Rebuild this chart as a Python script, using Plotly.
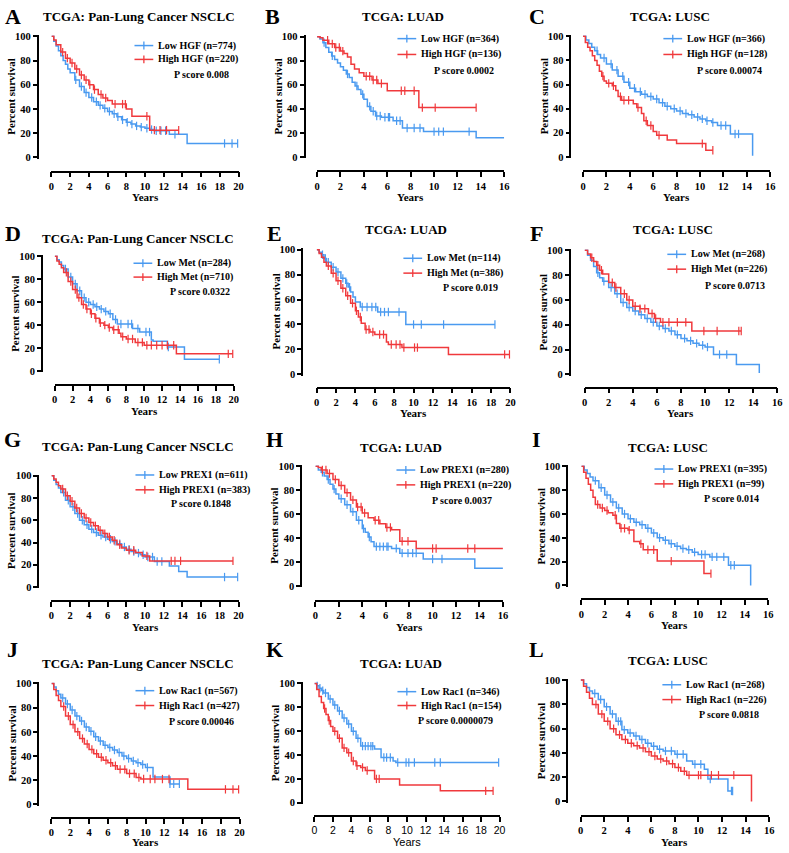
import plotly.graph_objects as go

BLUE = "#4a9af0"
RED = "#f0393c"
SERIF = "Liberation Serif"
SANS = "Liberation Sans"

# ---------------- data (Kaplan-Meier step knots: time in years, % survival after step) -------------
# Panel A: HGF, Pan-Lung NSCLC
a_low_t = [0.25, 0.5, 0.75, 1, 1.25, 1.5, 1.75, 2, 2.5, 3, 3.5, 4, 4.5, 5, 5.5, 6, 6.5, 7, 7.5, 8, 8.5, 9, 9.5, 10, 10.5, 11, 12.6, 14.5]
a_low_s = [96, 92, 88, 84, 80, 77, 73, 70, 64, 58.5, 53.5, 49.5, 46, 43, 40.5, 38, 36, 33.5, 31, 29, 27.5, 26, 25, 24, 23, 22, 19, 11.5]
a_low_c = [2.6, 3.2, 3.7, 4.3, 4.8, 5.2, 5.7, 6.2, 6.7, 7.1, 7.6, 8.1, 8.6, 9.1, 9.6, 10.2, 10.7, 11.2, 11.7, 12.2, 13.2, 18.5, 19.3, 19.9]
a_high_t = [0.25, 0.5, 1, 1.5, 2, 2.5, 3, 3.5, 4, 4.5, 5, 5.5, 6, 6.5, 8, 8.6, 10.5]
a_high_s = [97, 93, 87, 82, 78, 73, 68, 64, 60, 56, 52, 49, 47, 44, 40, 34, 22.5]
a_high_c = [1.2, 1.7, 2.2, 2.7, 3.2, 3.7, 4.1, 4.6, 5.3, 5.8, 6.8, 7.6, 7.9, 10.2, 11, 11.6, 12.3, 13.6]

# Panel B: HGF, LUAD
b_low_t = [0.25, 0.5, 0.75, 1, 1.25, 1.5, 1.75, 2, 2.25, 2.5, 2.75, 3, 3.25, 3.5, 3.75, 4, 4.3, 4.6, 5, 5.5, 6.5, 7.3, 9.1, 13.6]
b_low_s = [98, 95, 91, 87, 84, 81, 78, 75, 72, 69, 66, 62, 59, 56, 52, 48, 42, 38, 34, 33, 30, 24, 21, 16]
b_low_c = [0.6, 1.3, 2.6, 3.4, 3.9, 4.5, 4.8, 5.1, 5.4, 5.8, 6.1, 6.2, 6.8, 7.1, 7.7, 8.3, 8.8, 10, 10.4, 10.8, 13]
b_high_t = [0.25, 0.5, 1, 1.5, 2, 2.3, 2.6, 2.9, 3.2, 3.6, 4, 4.7, 5.2, 6, 8.7]
b_high_s = [99, 97, 94, 91, 88, 86, 83, 77, 73, 70, 67, 64, 61, 55, 41]
b_high_c = [0.9, 1.3, 1.6, 1.9, 2.2, 4.2, 4.5, 4.8, 5.1, 5.5, 7.2, 7.5, 8.3, 9.0, 10.1, 13.6]

# Panel C: HGF, LUSC
c_low_t = [0.25, 0.5, 0.75, 1, 1.25, 1.5, 2, 2.5, 3, 3.5, 4, 4.5, 5, 5.5, 6, 6.5, 7, 7.5, 8, 8.5, 9, 9.5, 10, 10.5, 11, 11.5, 12.6, 14.5]
c_low_s = [97, 94, 91, 88, 85, 82, 77, 72, 67, 62, 57, 54, 52, 50, 48, 45, 42, 40, 38, 36, 35, 33, 31.5, 30, 28.5, 26, 19, 1]
c_low_c = [1.2, 1.8, 2.4, 2.9, 3.4, 3.9, 4.4, 4.9, 5.3, 5.8, 6.3, 6.8, 7.2, 7.8, 8.3, 8.8, 9.3, 9.8, 10.2, 10.6, 11.1, 11.8, 12.2, 13, 13.3]
c_high_t = [0.2, 0.4, 0.6, 0.8, 1, 1.2, 1.4, 1.6, 1.8, 2, 2.5, 2.8, 3, 3.3, 4.3, 4.6, 5, 5.2, 5.5, 6, 6.3, 7.2, 8, 10.5]
c_high_s = [95, 91, 88, 84, 80, 76, 71, 67, 63, 61, 59, 55, 50, 47, 44, 41, 36, 30, 26, 21, 18, 14, 11, 5.5]
c_high_c = [1.7, 2.2, 2.6, 3.2, 3.5, 3.9, 4.7, 5.4, 5.8, 6.5, 10.2, 11.1]

# Panel D: Met, Pan-Lung NSCLC
d_low_t = [0.25, 0.5, 0.75, 1, 1.5, 2, 2.5, 3, 3.5, 4, 4.5, 5, 5.5, 6, 6.5, 7, 8.7, 9.5, 10.8, 11, 12.6, 14.5]
d_low_s = [97, 95, 92, 89, 82, 76, 70, 64, 60, 58, 56, 54, 52, 50, 45, 41, 37, 34, 27, 26, 21, 10.3]
d_low_c = [1.2, 1.8, 2.3, 2.8, 3.3, 3.8, 4.3, 4.7, 5.2, 5.7, 6.2, 6.8, 7.4, 8.2, 8.6, 9.3, 10.2, 10.6, 12.7, 18.4]
d_high_t = [0.25, 0.5, 0.75, 1, 1.5, 2, 2.5, 3, 3.5, 4, 4.5, 5, 5.5, 6, 6.5, 7.2, 7.4, 8, 9, 10, 13.6]
d_high_s = [96, 93, 90, 86, 78, 71, 64, 58, 54, 50, 46, 42, 40, 38, 36, 33, 30, 28, 25, 22.5, 15]
d_high_c = [1.3, 1.8, 2.3, 2.7, 3.2, 3.6, 4.1, 4.6, 5.1, 5.6, 6.1, 6.6, 7.1, 7.6, 8.2, 8.7, 9.3, 9.8, 10.3, 10.8, 11.4, 12, 12.6, 13.3, 19.4, 19.9]

# Panel E: Met, LUAD
e_low_t = [0.25, 0.5, 0.75, 1, 1.5, 2, 2.5, 3, 3.25, 3.5, 3.75, 4, 4.5, 6.3, 9.2]
e_low_s = [98, 96, 93, 90, 86, 82, 77, 73, 70, 66, 62, 58, 54, 50, 40]
e_low_c = [0.6, 0.9, 1.2, 1.7, 2.2, 2.7, 3.1, 3.4, 4.7, 5.2, 5.7, 6.1, 6.6, 7.0, 7.4, 8.5, 10, 10.8, 13.1, 18.4]
e_high_t = [0.25, 0.5, 0.75, 1, 1.5, 2, 2.5, 3, 3.5, 4, 4.3, 4.6, 5, 5.5, 6, 7.2, 7.4, 8.8, 13.6]
e_high_s = [97, 94, 90, 87, 81, 75, 69, 63, 57, 51, 46, 41, 36, 34, 32, 26, 24, 21.5, 16]
e_high_c = [1.2, 1.7, 2.2, 2.7, 3.2, 3.7, 4.1, 4.5, 5.1, 5.4, 5.8, 6.5, 6.9, 7.7, 8.2, 8.6, 9, 10.1, 10.4, 19.4, 19.9]

# Panel F: Met, LUSC
f_low_t = [0.25, 0.5, 0.75, 1, 1.25, 1.5, 2, 2.5, 3, 3.5, 4, 4.5, 5, 5.5, 6, 6.5, 7, 7.5, 8, 8.5, 9, 9.5, 10, 10.7, 12.6, 14.5]
f_low_s = [96, 92, 87, 82, 78, 75, 70, 65, 58, 54, 51, 48, 45, 42, 39, 37, 35, 32, 29, 27, 25, 23.5, 22, 16, 8, 1]
f_low_c = [1.1, 1.6, 2.2, 2.7, 3.2, 3.7, 4.2, 4.7, 5.2, 5.7, 6.2, 6.7, 7.2, 7.7, 8.3, 8.8, 9.3, 9.8, 10.2, 11.2, 11.8]
f_high_t = [0.25, 0.5, 0.75, 1, 1.25, 1.5, 2, 2.5, 3, 3.5, 4, 4.6, 5.3, 5.8, 6.3, 8.9]
f_high_s = [97, 94, 91, 88, 84, 81, 74, 70, 65, 60, 55, 53, 49, 45, 42, 35]
f_high_c = [0.6, 1.1, 1.4, 2.3, 2.6, 3.3, 3.7, 4.2, 4.6, 5.0, 5.6, 5.9, 6.5, 7.0, 7.7, 8.4, 9.9, 11, 12.8, 13]

# Panel G: PREX1, Pan-Lung NSCLC
g_low_t = [0.25, 0.5, 0.75, 1, 1.5, 2, 2.5, 3, 3.5, 4, 4.5, 5, 5.5, 6, 6.5, 7, 7.5, 8, 8.5, 9, 9.5, 10, 11, 12.6, 13.6, 14.5]
g_low_s = [96, 92, 89, 85, 78, 72, 66, 60, 56, 52, 49, 46.5, 45, 43, 41, 39, 36, 34, 32, 30.5, 29, 27, 23, 19, 14, 9]
g_low_c = [1.3, 1.8, 2.3, 2.8, 3.3, 3.8, 4.3, 4.8, 5.3, 5.8, 6.3, 6.8, 7.3, 7.8, 8.3, 8.8, 9.3, 9.8, 10.3, 10.8, 11.3, 11.8, 18.5, 19.9]
g_high_t = [0.25, 0.5, 0.75, 1, 1.5, 2, 2.5, 3, 3.5, 4, 4.5, 5, 5.5, 6, 6.5, 7, 7.5, 8, 9, 9.7, 10.5]
g_high_s = [97, 94, 91, 88, 82, 77, 71, 66, 62, 58, 55, 51, 48, 45, 42, 38, 35, 33, 31, 28, 23.5]
g_high_c = [1.2, 1.7, 2.2, 2.7, 3.2, 3.7, 4.2, 4.7, 5.2, 5.7, 6.2, 6.7, 7.3, 8.3, 8.8, 10.2, 12.8, 13.2, 13.8, 19.4]

# Panel H: PREX1, LUAD
h_low_t = [0.25, 0.5, 0.75, 1, 1.25, 1.5, 1.75, 2, 2.5, 3, 3.5, 4, 4.25, 4.5, 4.75, 5, 6.5, 7.2, 9.2, 13.6]
h_low_s = [97, 95, 92, 89, 85, 81, 77, 73, 68, 62, 55, 48, 45, 41, 37, 33, 31.5, 27.5, 22.6, 15]
h_low_c = [0.6, 1.1, 1.6, 2.2, 2.7, 3.2, 3.7, 4.1, 4.6, 5.2, 5.5, 5.8, 6.1, 6.2, 6.9, 7.4, 7.9, 8.3, 8.6, 10, 10.8]
h_high_t = [0.25, 0.5, 1, 1.5, 2, 2.5, 3, 3.5, 4, 4.5, 5, 5.5, 6, 6.5, 7.2, 8.6]
h_high_s = [99, 97, 94, 89, 84, 78, 72, 66, 61, 57, 55, 52, 49, 47, 37.5, 31.4]
h_high_c = [0.6, 0.9, 1.2, 1.7, 2.2, 2.7, 3.2, 3.6, 3.9, 4.2, 5.1, 5.4, 6.1, 6.4, 7.4, 7.9, 10, 10.3, 13, 13.6]

# Panel I: PREX1, LUSC
i_low_t = [0.25, 0.5, 0.75, 1, 1.5, 2, 2.5, 3, 3.5, 4, 4.5, 5, 5.5, 6, 6.5, 7, 7.5, 8, 8.5, 9, 9.5, 10, 11, 12.6, 14.5]
i_low_s = [97, 94, 91, 88, 82, 76, 70, 65, 60, 56, 53, 51, 48, 44, 40, 38, 35, 33, 31, 30, 28, 26, 24, 17, 0]
i_low_c = [1.2, 1.7, 2.2, 2.7, 3.2, 3.7, 4.2, 4.7, 5.2, 5.7, 6.2, 6.7, 7.2, 7.7, 8.2, 8.7, 9.2, 9.7, 10.3, 10.6, 11.2, 11.6, 12.2, 12.8, 13.1]
i_high_t = [0.2, 0.4, 0.6, 0.8, 1, 1.2, 1.6, 2, 2.3, 2.7, 3, 3.3, 4, 4.5, 5, 5.3, 6.5, 10.5]
i_high_s = [95, 90, 85, 80, 74, 68, 65, 63, 61, 59, 52, 48, 46.5, 37, 35, 30, 20.5, 10]
i_high_c = [1.4, 1.8, 2.2, 2.9, 3.4, 3.7, 4.1, 5.1, 5.7, 6.2, 7.7, 11.1]

# Panel J: Rac1, Pan-Lung NSCLC
j_low_t = [0.25, 0.5, 0.75, 1, 1.5, 2, 2.5, 3, 3.5, 4, 4.5, 5, 5.5, 6, 6.5, 7, 7.5, 8, 8.5, 9, 9.5, 10, 10.8, 12.6]
j_low_s = [97, 94, 91, 88, 83, 78, 73, 69, 64, 60.5, 56, 52.5, 49, 47, 45, 43, 40, 38, 36, 34.5, 33, 30.5, 22.6, 17]
j_low_c = [1.2, 1.7, 2.2, 2.7, 3.2, 3.7, 4.2, 4.7, 5.2, 5.7, 6.2, 6.7, 7.2, 7.7, 8.2, 8.7, 9.2, 9.7, 10.2, 12.6, 13, 13.6]
j_high_t = [0.25, 0.5, 0.75, 1, 1.5, 2, 2.5, 3, 3.5, 4, 4.5, 5, 5.5, 6, 6.5, 7, 8, 9, 9.5, 14.5]
j_high_s = [95, 90, 86, 81, 73, 66, 60, 54.5, 50, 45.5, 42, 39, 36.5, 34.5, 32, 29, 25.5, 22.3, 21, 12.5]
j_high_c = [1.3, 1.8, 2.3, 2.8, 3.3, 3.8, 4.3, 4.8, 5.3, 5.8, 6.3, 6.8, 7.3, 7.8, 8.3, 8.8, 9.3, 9.8, 10.5, 11, 11.8, 12.5, 18.5, 19.3, 19.9]

# Panel K: Rac1, LUAD
k_low_t = [0.25, 0.5, 0.75, 1, 1.5, 2, 2.5, 3, 3.5, 4, 4.5, 5, 6.5, 7.2, 8.5, 8.8]
k_low_s = [98, 96, 94, 92, 87, 82, 77, 71, 66, 60, 54, 47.5, 45, 38, 35, 33.7]
k_low_c = [0.3, 0.6, 0.9, 1.2, 1.7, 2.2, 2.7, 3.2, 3.7, 4.2, 4.7, 5.2, 5.5, 5.8, 6.1, 6.3, 7.5, 7.8, 8.2, 9, 9.9, 10.2, 10.8, 13, 13.6, 19.9]
k_high_t = [0.25, 0.5, 0.75, 1, 1.25, 1.5, 1.75, 2, 2.5, 3, 3.5, 4, 4.5, 5, 5.5, 6.5, 9.2, 13.6]
k_high_s = [95, 89, 84, 79, 74, 69, 64, 60, 54, 46, 42, 35, 31, 29.6, 27, 20, 15, 10]
k_high_c = [1.1, 1.6, 2.2, 2.7, 3.2, 3.7, 4.2, 4.6, 5.2, 5.7, 6.7, 7, 18.5, 19.3]

# Panel L: Rac1, LUSC
l_low_t = [0.25, 0.5, 0.75, 1, 1.5, 2, 2.5, 3, 3.5, 4, 4.5, 5, 5.5, 6, 6.5, 7, 8, 9, 9.5, 10.5, 10.8, 12.5]
l_low_s = [97, 94, 91, 89, 84, 78, 72, 66, 59, 56.5, 54, 51, 48, 45.6, 43, 41.6, 38.9, 33.4, 30.7, 26.6, 18.5, 8.7]
l_low_c = [1.2, 1.7, 2.2, 2.7, 3.2, 3.4, 3.7, 4.2, 4.7, 5.2, 5.7, 6.2, 6.7, 7.2, 7.7, 8.2, 8.7, 9.7, 10.2, 11, 12.8, 12.9]
l_high_t = [0.25, 0.5, 0.75, 1, 1.5, 2, 2.5, 3, 3.5, 4, 4.5, 5, 5.5, 6, 6.5, 7, 7.5, 8, 8.5, 9, 14.5]
l_high_s = [95, 90, 85, 80, 72, 66, 60, 55, 51, 48, 46, 44, 41, 37.5, 35, 33.4, 31, 28, 25, 21.7, 0]
l_high_c = [1.3, 1.8, 2.3, 2.8, 3.3, 3.8, 4.3, 4.8, 5.3, 5.8, 6.3, 6.8, 7.3, 7.8, 8.3, 8.8, 9.2, 10, 10.2, 11.1, 11.7, 13]

# last follow-up time of each curve (low, high)
follow_up_low = [19.9, 16, 14.5, 18.4, 18.4, 14.5, 19.9, 16, 14.5, 13.6, 19.9, 12.9]
follow_up_high = [13.6, 13.6, 11.1, 19.9, 19.9, 13, 19.4, 16, 11.1, 19.9, 19.3, 14.5]

panel_letters = ["A", "B", "C", "D", "E", "F", "G", "H", "I", "J", "K", "L"]
panel_titles = ["TCGA: Pan-Lung Cancer NSCLC", "TCGA: LUAD", "TCGA: LUSC"] * 4
low_labels = ["Low HGF (n=774)", "Low HGF (n=364)", "Low HGF (n=366)",
              "Low Met (n=284)", "Low Met (n=114)", "Low Met (n=268)",
              "Low PREX1 (n=611)", "Low PREX1 (n=280)", "Low PREX1 (n=395)",
              "Low Rac1 (n=567)", "Low Rac1 (n=346)", "Low Rac1 (n=268)"]
high_labels = ["High HGF (n=220)", "High HGF (n=136)", "High HGF (n=128)",
               "High Met (n=710)", "High Met (n=386)", "High Met (n=226)",
               "High PREX1 (n=383)", "High PREX1 (n=220)", "High PREX1 (n=99)",
               "High Rac1 (n=427)", "High Rac1 (n=154)", "High Rac1 (n=226)"]
p_labels = ["P score 0.008", "P score 0.0002", "P score 0.00074",
            "P score 0.0322", "P score 0.019", "P score 0.0713",
            "P score 0.1848", "P score 0.0037", "P score 0.014",
            "P score 0.00046", "P score 0.0000079", "P score 0.0818"]
x_max = [20, 16, 16, 20, 20, 16, 20, 16, 16, 20, 20, 16]

low_series = [(a_low_t, a_low_s, a_low_c), (b_low_t, b_low_s, b_low_c), (c_low_t, c_low_s, c_low_c),
              (d_low_t, d_low_s, d_low_c), (e_low_t, e_low_s, e_low_c), (f_low_t, f_low_s, f_low_c),
              (g_low_t, g_low_s, g_low_c), (h_low_t, h_low_s, h_low_c), (i_low_t, i_low_s, i_low_c),
              (j_low_t, j_low_s, j_low_c), (k_low_t, k_low_s, k_low_c), (l_low_t, l_low_s, l_low_c)]
high_series = [(a_high_t, a_high_s, a_high_c), (b_high_t, b_high_s, b_high_c), (c_high_t, c_high_s, c_high_c),
               (d_high_t, d_high_s, d_high_c), (e_high_t, e_high_s, e_high_c), (f_high_t, f_high_s, f_high_c),
               (g_high_t, g_high_s, g_high_c), (h_high_t, h_high_s, h_high_c), (i_high_t, i_high_s, i_high_c),
               (j_high_t, j_high_s, j_high_c), (k_high_t, k_high_s, k_high_c), (l_high_t, l_high_s, l_high_c)]

# ---------------- layout geometry (pixels in the 789x853 page) ----------------
W, H = 789, 853
# y-axis line x, x0 px, xmax px, y100 px, y0 px, x-axis line y, title cx, title cy, letter cx, letter cy,
# legend text start x, legend row1 y, legend row2 y, p-score x, p-score y
geom = [
    (35, 49, 238.3, 32.7, 155, 169.3, 138, 13, 10, 13, 155, 42, 56, 171, 71),
    (305, 317.7, 507, 33, 154.5, 169, 405, 13, 273, 13, 421, 35, 51, 434, 67),
    (574, 586.7, 776, 32.7, 154.5, 169, 675, 13, 540, 13, 690, 35, 51, 700, 67),
    (39.3, 52.3, 233.3, 255, 371, 385, 137, 237, 10, 232, 154, 262, 276, 167, 291),
    (302.7, 317.3, 513.3, 248.3, 374.3, 387.7, 408, 228, 275, 232, 427, 257, 272, 443, 287),
    (573.3, 588.3, 783.3, 249, 374.3, 387.7, 678, 228, 540, 232, 694, 253, 268, 708, 285),
    (35.7, 49, 238.3, 476.7, 589.3, 603.3, 137, 447, 10, 440, 156, 476, 491, 168, 505),
    (301.7, 316, 505.7, 467.3, 588.3, 603.3, 403, 448, 275, 440, 420, 471, 486, 432, 502),
    (570.7, 585, 774, 467.3, 587.7, 601.7, 673, 448, 540, 440, 681, 470, 485, 707, 500),
    (35.7, 49, 239.3, 686.7, 809, 822.7, 137, 667, 10, 652, 156, 694, 709, 166, 725),
    (302.3, 315, 502.3, 686.7, 807.3, 820.7, 403, 667, 275, 652, 421, 695, 709, 418, 724),
    (570.7, 584.3, 775, 683.3, 806, 820.7, 673, 663, 540, 652, 689, 688, 703, 702, 718),
]


def fx(p):
    return p / W


def fy(p):
    return 1 - p / H


def surv_at(ts, ss, c):
    v = 100
    for t, s in zip(ts, ss):
        if t <= c:
            v = s
    return v


def bold(family, size):
    return dict(family=family, size=size, color="black", weight="bold")


fig = go.Figure()
annotations = []
shapes = []
layout = {}

for i in range(12):
    n = i + 1
    xa = "x" if n == 1 else f"x{n}"
    ya = "y" if n == 1 else f"y{n}"
    (yax, x0, x1, y100, y0, xax, tcx, tcy, lcx, lcy, ltx, lr1, lr2, psx, psy) = geom[i]

    for (ts, ss, cs), end, color, label, ry in (
        (low_series[i], follow_up_low[i], BLUE, low_labels[i], lr1),
        (high_series[i], follow_up_high[i], RED, high_labels[i], lr2),
    ):
        xs = [0] + list(ts) + [end]
        ys = [100] + list(ss) + [ss[-1]]
        fig.add_trace(go.Scatter(x=xs, y=ys, mode="lines", line=dict(color=color, width=1.5, shape="hv"),
                                 xaxis=xa, yaxis=ya, showlegend=False, hoverinfo="skip", name=label))
        fig.add_trace(go.Scatter(x=cs, y=[surv_at(ts, ss, c) for c in cs], mode="markers",
                                 marker=dict(symbol="line-ns", size=6, line=dict(color=color, width=1.2)),
                                 xaxis=xa, yaxis=ya, showlegend=False, hoverinfo="skip", cliponaxis=False))
        # legend key (line with censor tick) + label
        shapes.append(dict(type="line", xref="paper", yref="paper", x0=fx(ltx - 22), x1=fx(ltx - 3),
                           y0=fy(ry), y1=fy(ry), line=dict(color=color, width=1.5)))
        shapes.append(dict(type="line", xref="paper", yref="paper", x0=fx(ltx - 12.5), x1=fx(ltx - 12.5),
                           y0=fy(ry - 4), y1=fy(ry + 4), line=dict(color=color, width=1.3)))
        annotations.append(dict(text=label, x=fx(ltx), y=fy(ry), xref="paper", yref="paper", showarrow=False,
                                xanchor="left", yanchor="middle", font=bold(SERIF, 10)))

    tickfont = bold(SERIF, 10.5)
    xtickfont = dict(family=SANS, size=10.5, color="black") if n == 11 else tickfont
    ppu = (y0 - y100) / 100.0
    layout["xaxis" if n == 1 else f"xaxis{n}"] = dict(
        domain=[fx(x0), fx(x1)], range=[0, x_max[i]], anchor="free", position=fy(xax),
        showline=True, linewidth=1.6, linecolor="black", ticks="outside", ticklen=5, tickwidth=1.6,
        tickcolor="black", tick0=0, dtick=2, showgrid=False, zeroline=False, tickfont=xtickfont)
    layout["yaxis" if n == 1 else f"yaxis{n}"] = dict(
        domain=[fy(y0 + ppu), fy(y100 - ppu)], range=[-1, 101], anchor="free", position=fx(yax),
        showline=True, linewidth=1.6, linecolor="black", ticks="outside", ticklen=4, tickwidth=1.6,
        tickcolor="black", tickvals=[0, 20, 40, 60, 80, 100], showgrid=False, zeroline=False,
        tickfont=tickfont)

    annotations += [
        dict(text=panel_letters[i], x=fx(lcx), y=fy(lcy), xref="paper", yref="paper", showarrow=False,
             xanchor="center", yanchor="middle", font=bold(SERIF, 22)),
        dict(text=panel_titles[i], x=fx(tcx), y=fy(tcy), xref="paper", yref="paper", showarrow=False,
             xanchor="center", yanchor="middle", font=bold(SERIF, 13)),
        dict(text=p_labels[i], x=fx(psx), y=fy(psy), xref="paper", yref="paper", showarrow=False,
             xanchor="left", yanchor="middle", font=bold(SERIF, 10)),
        dict(text="Percent survival", x=fx(yax - 27), y=fy((y0 + y100) / 2), xref="paper", yref="paper",
             showarrow=False, textangle=-90, xanchor="center", yanchor="middle", font=bold(SERIF, 11)),
        dict(text="Years", x=fx((x0 + x1) / 2), y=fy(min(xax + 26, 846.5)), xref="paper", yref="paper",
             showarrow=False, xanchor="center", yanchor="middle",
             font=(dict(family=SANS, size=11, color="black") if n == 11 else bold(SERIF, 11))),
    ]

fig.update_layout(width=W, height=H, margin=dict(l=0, r=0, t=0, b=0), paper_bgcolor="white",
                  plot_bgcolor="white", annotations=annotations, shapes=shapes, showlegend=False, **layout)
fig.write_html("out.html", config={"displayModeBar": False},
               post_script="document.body.style.margin='0px';document.body.style.overflow='hidden';")
